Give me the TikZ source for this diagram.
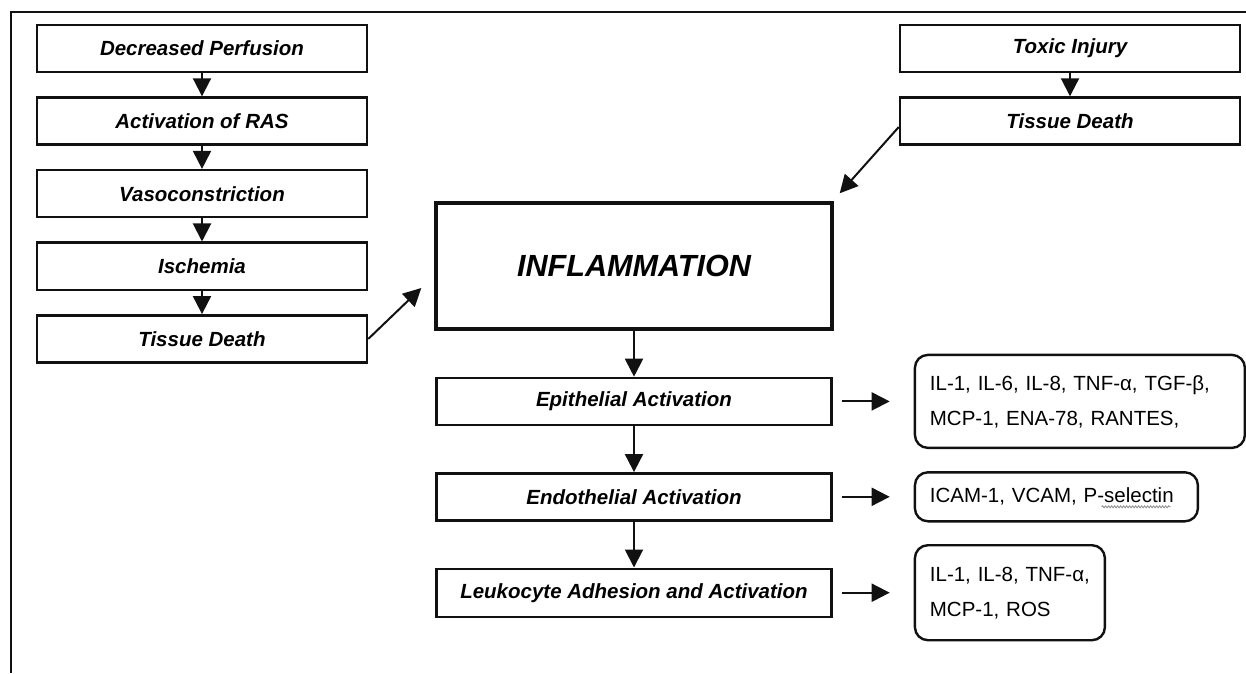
\documentclass[tikz,border=0pt]{standalone}
\usepackage{fontspec}
\setmainfont{Liberation Sans}
\usetikzlibrary{arrows.meta,positioning,calc,decorations.pathmorphing}
\definecolor{ink}{HTML}{111111}
\definecolor{squiggle}{HTML}{8A8A8A}
\tikzset{
  box/.style={draw=ink, line width=2.6pt, fill=white, minimum width=330pt, minimum height=47pt, inner sep=0pt, font=\fontsize{20.5}{24}\selectfont\bfseries\itshape},
  bigbox/.style={box, line width=3.4pt, minimum width=396pt, minimum height=126pt, font=\fontsize{30.6}{36}\selectfont\bfseries\itshape},
  midbox/.style={box, line width=2.4pt, minimum width=395pt},
  listbox/.style={draw=ink, line width=2.4pt, rounded corners=13pt, inner xsep=15pt, inner ysep=6pt, align=left, font=\fontsize{20.5}{35}\selectfont},
  arrow/.style={-{Triangle[length=18pt,width=18pt]}, line width=2pt, draw=ink},
  frame/.style={draw=ink, line width=2.4pt},
  wavy/.style={draw=squiggle, line width=0.8pt, decorate, decoration={snake, amplitude=1pt, segment length=3pt}},
}
\begin{document}
\begin{tikzpicture}[x=1pt, y=1pt, node distance=23pt and 81pt]
\useasboundingbox (0,0) rectangle (1246,673);
\draw[frame] (11,0) |- (1246,661);
\node[box] (perf) at (202,624.5) {Decreased Perfusion};
\node[box, below=of perf] (ras) {Activation of RAS};
\node[box, below=of ras] (vaso) {Vasoconstriction};
\node[box, below=of vaso] (isch) {Ischemia};
\node[box, below=of isch] (deathL) {Tissue Death};
\node[box, minimum width=340pt] (toxic) at (1070,624.5) {Toxic Injury};
\node[box, minimum width=340pt, below=of toxic] (deathR) {Tissue Death};
\node[bigbox] (infl) at (634,407) {INFLAMMATION};
\node[midbox, below=46pt of infl] (epi) {Epithelial Activation};
\node[midbox, below=46pt of epi] (endo) {Endothelial Activation};
\node[midbox, minimum height=48pt, below=46pt of endo] (leuk) {Leukocyte Adhesion and Activation};
\node[listbox, text width=300pt, minimum height=93pt, right=of epi] (cytoA) {IL-1, IL-6, IL-8, TNF-α, TGF-β,\\MCP-1, ENA-78, RANTES,};
\node[listbox, text width=253pt, minimum height=49pt, right=of endo] (cytoB) {ICAM-1, VCAM, P-selectin};
\node[listbox, text width=160pt, minimum height=95pt, right=of leuk] (cytoC) {IL-1, IL-8, TNF-α,\\MCP-1, ROS};
\draw[wavy] ($(cytoB.west)+(188,-10)$) -- ($(cytoB.west)+(257,-10)$);
\coordinate (inL) at ($(infl.west)+(-13,-22)$);
\coordinate (inR) at ($(infl.north east)+(6,8)$);
\draw[arrow] (perf) -- (ras);
\draw[arrow] (ras) -- (vaso);
\draw[arrow] (vaso) -- (isch);
\draw[arrow] (isch) -- (deathL);
\draw[arrow] (toxic) -- (deathR);
\draw[arrow] (deathL.east) -- (inL);
\draw[arrow] (deathR.182) -- (inR);
\draw[arrow] (infl) -- (epi);
\draw[arrow] (epi) -- (endo);
\draw[arrow] (endo) -- (leuk);
\draw[arrow, shorten <=9pt, shorten >=24pt] (epi) -- (cytoA);
\draw[arrow, shorten <=9pt, shorten >=24pt] (endo) -- (cytoB);
\draw[arrow, shorten <=9pt, shorten >=24pt] (leuk) -- (cytoC);
\end{tikzpicture}
\end{document}
